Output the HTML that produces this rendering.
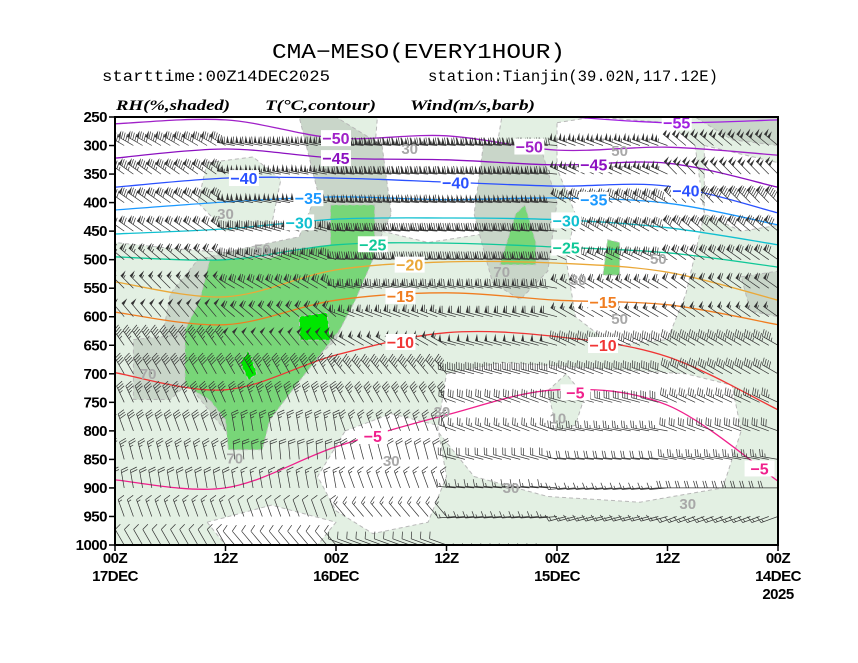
<!DOCTYPE html>
<html><head><meta charset="utf-8"><style>
html,body{margin:0;padding:0;background:#fff;}
svg{display:block;}
.t{font-family:"Liberation Mono",monospace;}
</style></head><body>
<svg id="chart" width="858" height="663" viewBox="0 0 858 663" xmlns="http://www.w3.org/2000/svg">
<defs><clipPath id="plotclip"><rect x="115" y="117" width="663" height="428"/></clipPath></defs>
<text class="t" x="272" y="58" font-size="21" textLength="293" lengthAdjust="spacingAndGlyphs" fill="#000">CMA−MESO(EVERY1HOUR)</text>
<text class="t" x="102" y="81" font-size="16" textLength="228" lengthAdjust="spacingAndGlyphs" fill="#000">starttime:00Z14DEC2025</text>
<text class="t" x="428" y="81" font-size="16" textLength="290" lengthAdjust="spacingAndGlyphs" fill="#000">station:Tianjin(39.02N,117.12E)</text>
<g font-family="Liberation Serif,serif" font-weight="bold" font-style="italic" font-size="15" fill="#000">
<text x="116" y="110" textLength="114" lengthAdjust="spacingAndGlyphs">RH(%,shaded)</text>
<text x="265" y="110" textLength="111" lengthAdjust="spacingAndGlyphs">T(°C,contour)</text>
<text x="410" y="110" textLength="125" lengthAdjust="spacingAndGlyphs">Wind(m/s,barb)</text>
</g>
<g id="plot" clip-path="url(#plotclip)">
<rect x="115" y="117" width="663" height="428" fill="#e3f0e3"/>
<g id="rh"></g><g id="temp"></g><g id="barbs"></g><g id="labels"></g>
</g>
<rect x="115" y="117" width="663" height="428" fill="none" stroke="#000" stroke-width="2"/>
<g id="axes"></g>
</svg>
<script>
const levels=[300,350,400,450,500,550,600,650,700,750,800,850,900,950,1000];
// wind direction (deg from) per level, segments h0-12 .. h60-72
const windDir=[
[310,290,275,275,280,300],[315,295,275,275,280,305],[315,300,275,275,280,305],[310,300,275,275,285,305],
[305,295,275,275,290,310],[305,300,280,280,300,315],[305,300,285,290,310,320],[300,295,285,300,320,325],
[300,290,285,320,330,330],[295,285,290,330,340,335],[290,280,290,340,350,340],[280,275,285,345,355,345],
[270,265,275,340,350,350],[250,255,265,320,340,340],[230,240,255,290,320,330]];
const windSpd=[
[40,42,48,50,44,36],[40,42,46,48,42,34],[36,38,42,44,40,32],[32,34,36,38,36,28],
[28,30,32,34,32,26],[24,26,28,30,28,22],[22,22,24,26,24,20],[18,18,20,22,20,18],
[16,16,16,18,18,16],[14,12,12,14,14,14],[12,10,10,10,10,12],[10,8,8,8,8,10],
[8,6,6,6,6,8],[6,5,5,5,4,6],[4,4,4,3,3,4]];
// isotherm pressure at forecast hours 0,12,...,72
const isoHours=[0,12,24,36,48,60,72];
const isoValues=[-55,-50,-45,-40,-35,-30,-25,-20,-15,-10,-5];
const isoP=[
[255,260,248,235,230,230,230],
[317,303,308,283,287,255,262],
[373,331,334,325,322,306,322],
[418,371,371,364,357,357,373],
[439,401,392,395,390,399,413],
[474,444,430,427,429,446,455],
[513,488,478,471,474,500,495],
[571,522,506,504,518,565,539],
[614,579,571,558,571,614,592],
[763,670,635,628,667,728,698],
[888,755,728,772,828,900,886]];
const isoColors=["#a020e0","#a020c8","#8c10c0","#2a50ff","#1a98ff","#10c0d0","#10c898","#eaa838","#f07d20","#f03535","#f0208c"];
const isoLabelHours=[[11],[48,27],[48,20],[58,35,10],[51,20],[52,23],[44,23],[40],[41,19],[41,19],[44,22,2]];
// RH regions in (hour, hPa)
const rhWhite=[
[[72,250],[51,250],[50,320],[48,420],[50,470],[58,490],[66,480],[72,470]],
[[43.5,250],[30,250],[30.5,300],[31,400],[32,455],[38,470],[43,450],[44,350]],
[[24,260],[20,250],[12,260],[9,300],[8,420],[10,560],[12,640],[18,650],[22,600],[23,500],[22,420],[24,340]],
[[8,300],[0,330],[0,440],[4,450],[8,420]],
[[36,700],[30,680],[20,690],[10,700],[5,720],[4,800],[6,900],[15,925],[25,915],[33,880],[37,800]],
[[47,800],[42,770],[37,790],[36,880],[38,960],[44,980],[48,940],[50,880]],
[[62,960],[55,930],[48,960],[50,1000],[60,1000]]];
const rhPale=[
[[62,330],[57,320],[54,360],[55,440],[60,450],[63,400]],
[[25,730],[23,700],[21,740],[22,790],[24,800]]];
const rhGray=[
[[52,250],[48,250],[43,300],[42,420],[44,490],[46,560],[48,640],[52,700],[56,760],[60,800],[62,760],[65,700],[67,650],[66,560],[63,500],[58,480],[52,460],[50,380]],
[[70,640],[64,630],[63,700],[66,745],[70,745]],
[[32,300],[26,290],[24,400],[25,520],[28,570],[31,540],[33,420]],
[[9,250],[0,250],[0,300],[5,290]],
[[4,530],[0,520],[0,600],[3,590]]];
const rhGreen=[
[[48.6,404],[43.8,404],[43.8,492],[45.9,571],[47.6,623],[51.9,711],[55.2,781],[56,833],[59.7,833],[60,781],[61.7,746],[64.4,720],[64.4,623],[62.8,571],[61.7,500],[58.4,497],[55.2,497],[51.9,483],[48.6,474]],
[[30.2,509],[28.5,420],[27.5,404],[26.3,470],[26.3,509]],
[[19,527],[18.5,465],[17.2,470],[17.2,527]]];
const rhBright=[
[[51.9,641],[52,600],[49,592],[48.6,641]],
[[58.4,680],[57.5,660],[56.6,700],[57.5,711]]];
const rhLabels=["30","50","30","50","70","30","50","50","70","70","30","30","30","10","30"];
const rhLabelH=[40,56,60,17.2,30,21.7,17.2,13,59,68.4,42,29,9.8,23.9,36.5];
const rhLabelP=[304,480,418,308,520,534,602,497,847,699,851,898,926,777,765];
const yTicks=[250,300,350,400,450,500,550,600,650,700,750,800,850,900,950,1000];
const xTickHours=[72,60,48,36,24,12,0];
const xTickTop=["00Z","12Z","00Z","12Z","00Z","12Z","00Z"];
const xTickBottom=["17DEC","","16DEC","","15DEC","","14DEC"];

const X0=115,X1=778,Y0=117,Y1=545;
const xs=h=>X1-(h/72)*(X1-X0);
const ys=p=>Y0+(p-250)/750*(Y1-Y0);
const NS="http://www.w3.org/2000/svg";
function mk(tag,attrs,parent){const e=document.createElementNS(NS,tag);for(const k in attrs)e.setAttribute(k,attrs[k]);parent.appendChild(e);return e;}

const rhG=document.getElementById('rh');
function poly(list,fill,stroke,name){
  list.forEach(pts=>{
    const e=mk('polygon',{points:pts.map(q=>xs(q[0]).toFixed(1)+','+ys(q[1]).toFixed(1)).join(' '),fill:fill,stroke:stroke,'stroke-width':1,'stroke-dasharray':'4 3','stroke-linejoin':'round'},rhG);
    
    
  });
}
poly(rhWhite,'#ffffff','#b8b8b8','rh-below-30');
poly(rhPale,'#e3f0e3','#b8b8b8','rh-30-50');
poly(rhGray,'#c9d6c9','#b8b8b8','rh-50-70');
poly(rhGreen,'#78d678','#c0c0c0','rh-70-90');
poly(rhBright,'#00e600','#c0c0c0','rh-above-90');

const tG=document.getElementById('temp');
function curvePath(pts){
  let d='M'+pts[0][0].toFixed(1)+','+pts[0][1].toFixed(1);
  for(let i=0;i<pts.length-1;i++){
    const p0=pts[Math.max(0,i-1)],p1=pts[i],p2=pts[i+1],p3=pts[Math.min(pts.length-1,i+2)];
    const c1=[p1[0]+(p2[0]-p0[0])/6,p1[1]+(p2[1]-p0[1])/6],c2=[p2[0]-(p3[0]-p1[0])/6,p2[1]-(p3[1]-p1[1])/6];
    d+=' C'+c1[0].toFixed(1)+','+c1[1].toFixed(1)+' '+c2[0].toFixed(1)+','+c2[1].toFixed(1)+' '+p2[0].toFixed(1)+','+p2[1].toFixed(1);
  }
  return d;
}
function pAt(row,h){
  for(let i=0;i<isoHours.length-1;i++){if(h>=isoHours[i]&&h<=isoHours[i+1]){const f=(h-isoHours[i])/(isoHours[i+1]-isoHours[i]);return row[i]+(row[i+1]-row[i])*f;}}
  return row[row.length-1];
}
const lG=document.getElementById('labels');
const bG=document.getElementById('barbs');

// wind barbs (drawn before contours' labels)
let d='',pen='';
levels.forEach((p,li)=>{
  for(let k=0;k<=72;k++){
    const h=k;
    const seg=Math.min(5,Math.floor(h/12));
    const dir=windDir[li][seg]*Math.PI/180,spd=windSpd[li][seg];
    const bx=xs(h),by=ys(p);
    const ux=Math.sin(dir),uy=-Math.cos(dir);
    const L=18;
    const tx=bx+ux*L,ty=by+uy*L;
    d+='M'+bx.toFixed(1)+','+by.toFixed(1)+'L'+tx.toFixed(1)+','+ty.toFixed(1);
    const px=-uy,py=ux;
    let rem=Math.round(spd/2)*2,pos=0;
    while(rem>=20){
      const ax=tx-ux*pos,ay=ty-uy*pos,cx=tx-ux*(pos+3),cy=ty-uy*(pos+3);
      pen+='M'+ax.toFixed(1)+','+ay.toFixed(1)+'L'+(ax+px*7).toFixed(1)+','+(ay+py*7).toFixed(1)+'L'+cx.toFixed(1)+','+cy.toFixed(1)+'Z';
      pos+=4;rem-=20;
    }
    while(rem>=4){
      const ax=tx-ux*pos,ay=ty-uy*pos;
      d+='M'+ax.toFixed(1)+','+ay.toFixed(1)+'L'+(ax+px*7+ux*2).toFixed(1)+','+(ay+py*7+uy*2).toFixed(1);
      pos+=2.5;rem-=4;
    }
    if(rem>=2){
      if(pos===0)pos=2.5;
      const ax=tx-ux*pos,ay=ty-uy*pos;
      d+='M'+ax.toFixed(1)+','+ay.toFixed(1)+'L'+(ax+px*3.5+ux*1).toFixed(1)+','+(ay+py*3.5+uy*1).toFixed(1);
    }
  }
});
const bp=mk('path',{d:d,fill:'none',stroke:'#333','stroke-width':0.7},bG);


const pp=mk('path',{d:pen,fill:'#333',stroke:'none'},bG);



isoP.forEach((row,i)=>{
  const pts=isoHours.map((h,j)=>[xs(h),ys(row[j])]);
  const e=mk('path',{d:curvePath(pts),fill:'none',stroke:isoColors[i],'stroke-width':1.3},tG);
  
  
  isoLabelHours[i].forEach(h=>{
    const x=xs(h),y=ys(pAt(row,h));
    const txt=(isoValues[i]<0?'−':'')+Math.abs(isoValues[i]);
    const r=mk('rect',{x:x-15,y:y-8,width:30,height:16,fill:'#fff'},lG);
    
    
    const t=mk('text',{x:x,y:y+6,'text-anchor':'middle','font-family':'Liberation Sans,sans-serif','font-weight':'bold','font-size':16,fill:isoColors[i]},lG);
    t.textContent=txt;
    
    
  });
});
rhLabels.forEach((s,i)=>{
  const x=xs(rhLabelH[i]),y=ys(rhLabelP[i]);
  const t=mk('text',{x:x,y:y+6,'text-anchor':'middle','font-family':'Liberation Sans,sans-serif','font-weight':'bold','font-size':15,fill:'#a8a8a8'},lG);
  t.textContent=s;
  
  
});

const aG=document.getElementById('axes');
yTicks.forEach(p=>{
  const y=ys(p);
  const l=mk('line',{x1:109,x2:115,y1:y,y2:y,stroke:'#000','stroke-width':1.5},aG);
  
  
  const t=mk('text',{x:107,y:y+5,'text-anchor':'end','font-family':'Liberation Sans,sans-serif','font-weight':'bold','font-size':15,'letter-spacing':'-0.5',fill:'#000'},aG);
  t.textContent=p;
  
  
});
xTickHours.forEach((h,i)=>{
  const x=xs(h);
  const l=mk('line',{x1:x,x2:x,y1:545,y2:551,stroke:'#000','stroke-width':1.5},aG);
  
  
  const t=mk('text',{x:x,y:563,'text-anchor':'middle','font-family':'Liberation Sans,sans-serif','font-weight':'bold','font-size':15,'letter-spacing':'-0.5',fill:'#000'},aG);
  t.textContent=xTickTop[i];
  
  
  if(xTickBottom[i]){
    const t2=mk('text',{x:x,y:581,'text-anchor':'middle','font-family':'Liberation Sans,sans-serif','font-weight':'bold','font-size':15,'letter-spacing':'-0.5',fill:'#000'},aG);
    t2.textContent=xTickBottom[i];
    
    
  }
});
const yr=mk('text',{x:xs(0),y:599,'text-anchor':'middle','font-family':'Liberation Sans,sans-serif','font-weight':'bold','font-size':15,'letter-spacing':'-0.5',fill:'#000'},aG);
yr.textContent='2025';


</script>
</body></html>
